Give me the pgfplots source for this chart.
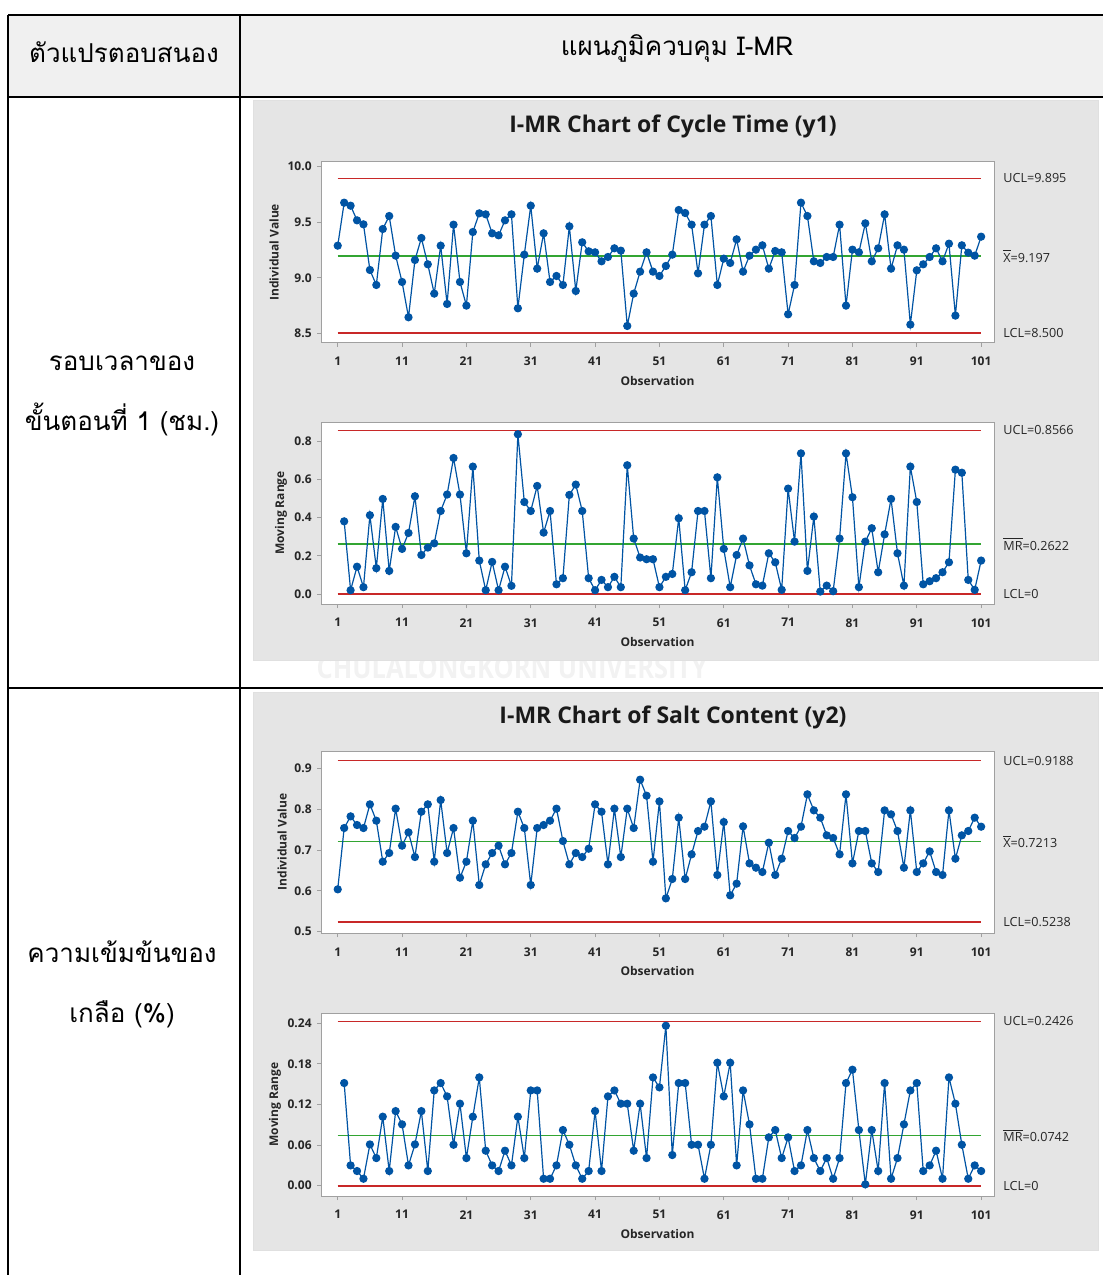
\documentclass[border=0pt]{standalone}
\usepackage{pgfplots}
\pgfplotsset{compat=1.18}
\usepackage{pgfplotstable}
\usepackage{fontspec}
\setmainfont{Open Sans}
\newfontfamily\thai[Script=Thai]{Loma}

\definecolor{mtblue}{RGB}{0,84,164}
\definecolor{mtred}{RGB}{200,40,40}
\definecolor{mtgreen}{RGB}{50,165,50}
\definecolor{panelgray}{RGB}{229,229,229}
\definecolor{headgray}{RGB}{240,240,240}
\definecolor{framegray}{RGB}{160,160,160}

% ---------- data: cycle time (y1) ----------
\pgfplotstableread{
obs val
1 9.289
2 9.676
3 9.649
4 9.517
5 9.481
6 9.070
7 8.935
8 9.439
9 9.556
10 9.199
11 8.962
12 8.644
13 9.160
14 9.358
15 9.121
16 8.857
17 9.289
18 8.764
19 9.478
20 8.962
21 8.749
22 9.412
23 9.580
24 9.571
25 9.400
26 9.382
27 9.517
28 9.571
29 8.725
30 9.208
31 9.649
32 9.082
33 9.400
34 8.962
35 9.016
36 8.935
37 9.463
38 8.881
39 9.319
40 9.238
41 9.229
42 9.148
43 9.187
44 9.265
45 9.244
46 8.566
47 8.857
48 9.055
49 9.229
50 9.055
51 9.016
52 9.106
53 9.208
54 9.610
55 9.583
56 9.478
57 9.040
58 9.478
59 9.556
60 8.935
61 9.172
62 9.133
63 9.346
64 9.055
65 9.199
66 9.253
67 9.292
68 9.082
69 9.241
70 9.229
71 8.671
72 8.935
73 9.676
74 9.556
75 9.148
76 9.133
77 9.187
78 9.187
79 9.478
80 8.749
81 9.253
82 9.229
83 9.490
84 9.148
85 9.265
86 9.571
87 9.082
88 9.292
89 9.253
90 8.578
91 9.067
92 9.121
93 9.187
94 9.265
95 9.148
96 9.307
97 8.659
98 9.292
99 9.226
100 9.199
101 9.370
}\cycI

\pgfplotstableread{
obs val
2 0.381
3 0.021
4 0.144
5 0.037
6 0.413
7 0.136
8 0.498
9 0.122
10 0.352
11 0.237
12 0.320
13 0.512
14 0.205
15 0.244
16 0.266
17 0.435
18 0.521
19 0.712
20 0.521
21 0.214
22 0.667
23 0.176
24 0.021
25 0.169
26 0.021
27 0.144
28 0.044
29 0.836
30 0.482
31 0.435
32 0.566
33 0.322
34 0.435
35 0.052
36 0.084
37 0.519
38 0.573
39 0.435
40 0.084
41 0.021
42 0.075
43 0.037
44 0.091
45 0.037
46 0.674
47 0.291
48 0.192
49 0.183
50 0.183
51 0.037
52 0.091
53 0.106
54 0.397
55 0.021
56 0.115
57 0.435
58 0.435
59 0.084
60 0.611
61 0.237
62 0.037
63 0.205
64 0.291
65 0.151
66 0.052
67 0.045
68 0.214
69 0.167
70 0.023
71 0.552
72 0.275
73 0.736
74 0.122
75 0.406
76 0.014
77 0.045
78 0.016
79 0.291
80 0.736
81 0.507
82 0.037
83 0.275
84 0.345
85 0.115
86 0.313
87 0.498
88 0.214
89 0.045
90 0.667
91 0.482
92 0.052
93 0.068
94 0.084
95 0.115
96 0.167
97 0.651
98 0.635
99 0.075
100 0.023
101 0.176
}\cycMR

% ---------- data: salt content (y2) ----------
\pgfplotstableread{
obs val
1 0.6038
2 0.7539
3 0.7825
4 0.7613
5 0.7539
6 0.8119
7 0.7719
8 0.6715
9 0.6927
10 0.8013
11 0.7107
12 0.7433
13 0.6829
14 0.7939
15 0.8119
16 0.6715
17 0.8225
18 0.6927
19 0.7539
20 0.6323
21 0.6715
22 0.7719
23 0.6144
24 0.6650
25 0.6927
26 0.7107
27 0.6650
28 0.6927
29 0.7939
30 0.7539
31 0.6144
32 0.7539
33 0.7613
34 0.7719
35 0.8013
36 0.7221
37 0.6650
38 0.6927
39 0.6829
40 0.7033
41 0.8119
42 0.7939
43 0.6650
44 0.8013
45 0.6829
46 0.8013
47 0.7539
48 0.8723
49 0.8331
50 0.6715
51 0.8192
52 0.5817
53 0.6291
54 0.7793
55 0.6291
56 0.6895
57 0.7466
58 0.7572
59 0.8192
60 0.6389
61 0.7686
62 0.5891
63 0.6177
64 0.7580
65 0.6674
66 0.6568
67 0.6462
68 0.7180
69 0.6389
70 0.6789
71 0.7466
72 0.7295
73 0.7572
74 0.8364
75 0.7972
76 0.7793
77 0.7360
78 0.7295
79 0.6895
80 0.8364
81 0.6674
82 0.7466
83 0.7466
84 0.6674
85 0.6462
86 0.7972
87 0.7874
88 0.7466
89 0.6568
90 0.7972
91 0.6462
92 0.6674
93 0.6968
94 0.6462
95 0.6389
96 0.7972
97 0.6789
98 0.7360
99 0.7466
100 0.7793
101 0.7572
}\saltI

\pgfplotstableread{
obs val
2 0.1516
3 0.0300
4 0.0217
5 0.0103
6 0.0610
7 0.0408
8 0.1019
9 0.0217
10 0.1102
11 0.0906
12 0.0300
13 0.0610
14 0.1102
15 0.0217
16 0.1407
17 0.1516
18 0.1319
19 0.0605
20 0.1211
21 0.0408
22 0.1019
23 0.1599
24 0.0517
25 0.0300
26 0.0217
27 0.0517
28 0.0300
29 0.1019
30 0.0408
31 0.1407
32 0.1407
33 0.0103
34 0.0103
35 0.0300
36 0.0822
37 0.0605
38 0.0300
39 0.0103
40 0.0217
41 0.1102
42 0.0217
43 0.1319
44 0.1407
45 0.1211
46 0.1211
47 0.0517
48 0.1211
49 0.0408
50 0.1599
51 0.1452
52 0.2362
53 0.0453
54 0.1516
55 0.1516
56 0.0605
57 0.0605
58 0.0103
59 0.0605
60 0.1816
61 0.1319
62 0.1816
63 0.0300
64 0.1407
65 0.0906
66 0.0103
67 0.0103
68 0.0714
69 0.0822
70 0.0408
71 0.0714
72 0.0217
73 0.0300
74 0.0822
75 0.0408
76 0.0217
77 0.0408
78 0.0103
79 0.0408
80 0.1516
81 0.1713
82 0.0822
83 0.0020
84 0.0822
85 0.0217
86 0.1516
87 0.0103
88 0.0408
89 0.0906
90 0.1407
91 0.1516
92 0.0217
93 0.0300
94 0.0517
95 0.0103
96 0.1599
97 0.1211
98 0.0605
99 0.0103
100 0.0300
101 0.0217
}\saltMR

\pgfplotsset{
  imr/.style={
    scale only axis, width=336.5pt, anchor=north west,
    xmin=-1.6, xmax=103,
    xtick={1,11,...,101},
    axis background/.style={fill=white},
    axis line style={draw=framegray, line width=0.5pt},
    tick align=outside, major tick length=2pt,
    tick style={draw=framegray, line width=0.5pt},
    xtick pos=bottom, ytick pos=left,
    /pgf/number format/assume math mode=true,
    ticklabel style={font=\fontsize{6}{7}\selectfont\bfseries, text=black!85},
    xticklabel style={anchor=north, inner sep=0pt, yshift=-5pt},
    yticklabel style={anchor=east, inner sep=0pt, xshift=-2.5pt},
    clip=false,
  },
  obsline/.style={color=mtblue, line width=0.6pt, mark=*, mark size=1.75pt,
    mark options={fill=mtblue, draw=mtblue}},
  ctrllimit/.style={color=mtred, line width=0.8pt, mark=none},
  ctrlmid/.style={color=mtgreen, line width=0.8pt, mark=none},
}
\tikzset{
  rlab/.style={anchor=west, inner sep=0pt, xshift=4.5pt,
    font=\fontsize{6.3}{7}\selectfont, text=black!85},
  xlab/.style={yshift=-19pt, inner sep=0pt,
    font=\fontsize{6}{7}\selectfont\bfseries, text=black!85},
  ylab/.style={rotate=90, inner sep=0pt,
    font=\fontsize{6}{7}\selectfont\bfseries, text=black!85},
  ttl/.style={font=\fontsize{11.5}{13}\selectfont\bfseries, text=black!90},
  thaitxt/.style={anchor=base, inner sep=0pt, font=\thai\fontsize{13}{16}\selectfont},
}

\begin{document}
\begin{tikzpicture}
\path[use as bounding box] (0pt,0pt) rectangle (551.5pt,-637.5pt);

% table header
\fill[headgray] (4pt,-7.5pt) rectangle (551.5pt,-48.5pt);

% faint watermark
\node[font=\fontsize{15}{17}\selectfont\bfseries, text=black!5, xscale=0.85]
  at (256pt,-334pt) {CHULALONGKORN UNIVERSITY};

% chart panels
\fill[panelgray] (126.5pt,-50pt) rectangle (549pt,-330pt);
\fill[panelgray] (126.5pt,-346pt) rectangle (549pt,-625pt);
\draw[black!12, line width=0.4pt] (126.5pt,-50pt) rectangle (549pt,-330pt);
\draw[black!12, line width=0.4pt] (126.5pt,-346pt) rectangle (549pt,-625pt);

% table rules
\draw[black, line width=0.75pt] (4pt,-7.5pt) -- (551.5pt,-7.5pt);
\draw[black, line width=0.75pt] (4pt,-48.5pt) -- (551.5pt,-48.5pt);
\draw[black, line width=0.75pt] (4pt,-344pt) -- (551.5pt,-344pt);
\draw[black, line width=0.75pt] (4pt,-7.5pt) -- (4pt,-637.5pt);
\draw[black, line width=0.75pt] (120pt,-7.5pt) -- (120pt,-637.5pt);

% table text
\node[thaitxt] at (62pt,-31pt) {ตัวแปรตอบสนอง};
\node[thaitxt] at (338.5pt,-27.5pt) {แผนภูมิควบคุม I-MR};
\node[thaitxt] at (61pt,-185pt) {รอบเวลาของ};
\node[thaitxt] at (61pt,-215pt) {ขั้นตอนที่ 1 (ชม.)};
\node[thaitxt] at (61pt,-481pt) {ความเข้มข้นของ};
\node[thaitxt] at (61pt,-511pt) {เกลือ (\%)};

% chart titles
\node[ttl] at (336.5pt,-63pt) {I-MR Chart of Cycle Time (y1)};
\node[ttl] at (336.5pt,-358.5pt) {I-MR Chart of Salt Content (y2)};

% ---- cycle time: individuals ----
\begin{axis}[imr, at={(160.5pt,-80.85pt)}, height=90.5pt,
  ymin=8.415, ymax=10.045, ytick={8.5,9.0,9.5,10.0},
  yticklabel style={/pgf/number format/.cd, fixed, fixed zerofill, precision=1}]
  \addplot[ctrllimit] coordinates {(1,9.895) (101,9.895)};
  \addplot[ctrllimit] coordinates {(1,8.5) (101,8.5)};
  \addplot[ctrlmid] coordinates {(1,9.197) (101,9.197)};
  \addplot[obsline] table[x=obs, y=val] {\cycI};
  \node[rlab] at (axis cs:103,9.895) {UCL=9.895};
  \node[rlab] at (axis cs:103,9.197) {$\overline{\mbox{X}}$=9.197};
  \node[rlab] at (axis cs:103,8.5) {LCL=8.500};
  \node[xshift=-23.5pt, ylab] at (rel axis cs:0,0.5) {Individual Value};
  \node[xlab] at (rel axis cs:0.5,0) {Observation};
\end{axis}

% ---- cycle time: moving range ----
\begin{axis}[imr, at={(160.5pt,-211pt)}, height=91pt,
  ymin=-0.051, ymax=0.900, ytick={0,0.2,0.4,0.6,0.8},
  yticklabel style={/pgf/number format/.cd, fixed, fixed zerofill, precision=1}]
  \addplot[ctrllimit] coordinates {(1,0.8566) (101,0.8566)};
  \addplot[ctrllimit] coordinates {(1,0) (101,0)};
  \addplot[ctrlmid] coordinates {(1,0.2622) (101,0.2622)};
  \addplot[obsline] table[x=obs, y=val] {\cycMR};
  \node[rlab] at (axis cs:103,0.8566) {UCL=0.8566};
  \node[rlab] at (axis cs:103,0.2622) {$\overline{\mbox{MR}}$=0.2622};
  \node[rlab] at (axis cs:103,0) {LCL=0};
  \node[xshift=-20pt, ylab] at (rel axis cs:0,0.5) {Moving Range};
  \node[xlab] at (rel axis cs:0.5,0) {Observation};
\end{axis}

% ---- salt content: individuals ----
\begin{axis}[imr, at={(160.5pt,-375.5pt)}, height=91.15pt,
  ymin=0.4961, ymax=0.9425, ytick={0.5,0.6,0.7,0.8,0.9},
  yticklabel style={/pgf/number format/.cd, fixed, fixed zerofill, precision=1}]
  \addplot[ctrllimit] coordinates {(1,0.9188) (101,0.9188)};
  \addplot[ctrllimit] coordinates {(1,0.5238) (101,0.5238)};
  \addplot[ctrlmid] coordinates {(1,0.7213) (101,0.7213)};
  \addplot[obsline] table[x=obs, y=val] {\saltI};
  \node[rlab] at (axis cs:103,0.9188) {UCL=0.9188};
  \node[rlab] at (axis cs:103,0.7213) {$\overline{\mbox{X}}$=0.7213};
  \node[rlab] at (axis cs:103,0.5238) {LCL=0.5238};
  \node[xshift=-19.5pt, ylab] at (rel axis cs:0,0.5) {Individual Value};
  \node[xlab] at (rel axis cs:0.5,0) {Observation};
\end{axis}

% ---- salt content: moving range ----
\begin{axis}[imr, at={(160.5pt,-506.5pt)}, height=91.5pt,
  ymin=-0.0152, ymax=0.255, ytick={0,0.06,0.12,0.18,0.24},
  yticklabel style={/pgf/number format/.cd, fixed, fixed zerofill, precision=2}]
  \addplot[ctrllimit] coordinates {(1,0.2426) (101,0.2426)};
  \addplot[ctrllimit] coordinates {(1,0) (101,0)};
  \addplot[ctrlmid] coordinates {(1,0.0742) (101,0.0742)};
  \addplot[obsline] table[x=obs, y=val] {\saltMR};
  \node[rlab] at (axis cs:103,0.2426) {UCL=0.2426};
  \node[rlab] at (axis cs:103,0.0742) {$\overline{\mbox{MR}}$=0.0742};
  \node[rlab] at (axis cs:103,0) {LCL=0};
  \node[xshift=-23pt, ylab] at (rel axis cs:0,0.5) {Moving Range};
  \node[xlab] at (rel axis cs:0.5,0) {Observation};
\end{axis}
\end{tikzpicture}
\end{document}
